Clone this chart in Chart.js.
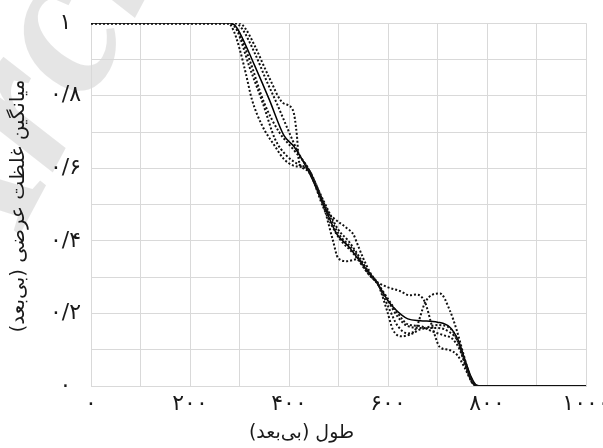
<!DOCTYPE html>
<html>
<head>
<meta charset="utf-8">
<script src="https://cdn.jsdelivr.net/npm/chart.js@4.4.0/dist/chart.umd.min.js"></script>
<style>
  html, body { margin: 0; padding: 0; background: #fff; }
  #wrap { width: 603px; height: 448px; }
</style>
</head>
<body>
<div id="wrap"><canvas id="myChart" width="603" height="448"></canvas></div>
<script>
// tick labels (Persian digits)
const xTickValues = [0, 200, 400, 600, 800, 1000];
const xTickLabels = ['۰', '۲۰۰', '۴۰۰', '۶۰۰', '۸۰۰', '۱۰۰۰'];
const yTickValues = [0, 0.2, 0.4, 0.6, 0.8, 1];
const yTickLabels = ['۰', '۰/۲', '۰/۴', '۰/۶', '۰/۸', '۱'];
const xTitle = 'طول (بی‌بعد)';
const yTitle = 'میانگین غلظت عرضی (بی‌بعد)';
const watermark = 'Archive';

// mean curve (solid)
const meanX = [0, 280, 290, 300, 330, 360, 390, 410, 440, 470, 496, 520, 540, 560, 580, 600, 612, 640, 665, 700, 725, 742, 756, 768, 778, 790, 1000];
const meanY = [1, 1, 0.995, 0.975, 0.885, 0.79, 0.69, 0.66, 0.59, 0.50, 0.42, 0.385, 0.35, 0.315, 0.28, 0.235, 0.215, 0.185, 0.18, 0.176, 0.162, 0.126, 0.07, 0.025, 0.003, 0, 0];

// individual runs (dotted)
const run1X = [0, 277, 288, 300, 313, 325, 345, 372, 390, 408, 428, 440, 460, 475, 490, 517, 530, 540, 550, 565, 580, 598, 610, 628, 645, 670, 700, 725, 740, 755, 768, 780, 1000];
const run1Y = [1, 1, 0.98, 0.93, 0.86, 0.79, 0.72, 0.66, 0.625, 0.608, 0.603, 0.596, 0.53, 0.485, 0.463, 0.435, 0.418, 0.385, 0.352, 0.31, 0.28, 0.208, 0.155, 0.137, 0.142, 0.158, 0.16, 0.148, 0.126, 0.07, 0.02, 0, 0];

const run2X = [0, 300, 312, 330, 360, 388, 408, 416, 420, 432, 440, 455, 469, 489, 499, 517, 540, 560, 580, 600, 620, 640, 655, 675, 690, 705, 725, 739, 752, 765, 778, 1000];
const run2Y = [1, 1, 0.985, 0.94, 0.85, 0.78, 0.76, 0.69, 0.62, 0.598, 0.59, 0.55, 0.5, 0.4, 0.353, 0.344, 0.35, 0.315, 0.28, 0.22, 0.165, 0.145, 0.155, 0.23, 0.252, 0.255, 0.208, 0.153, 0.09, 0.03, 0, 0];

const run3X = [0, 280, 295, 320, 347, 372, 395, 420, 440, 470, 500, 530, 560, 580, 600, 624, 644, 658, 675, 690, 705, 722, 740, 755, 770, 782, 1000];
const run3Y = [1, 1, 0.98, 0.88, 0.78, 0.68, 0.635, 0.61, 0.596, 0.505, 0.42, 0.375, 0.31, 0.285, 0.272, 0.262, 0.25, 0.252, 0.23, 0.16, 0.107, 0.10, 0.085, 0.05, 0.01, 0, 0];

const run4X = [0, 292, 305, 330, 355, 375, 400, 420, 440, 470, 500, 520, 540, 560, 580, 600, 620, 640, 670, 700, 725, 742, 756, 770, 785, 1000];
const run4Y = [1, 1, 0.985, 0.92, 0.84, 0.78, 0.70, 0.64, 0.596, 0.51, 0.43, 0.40, 0.36, 0.315, 0.28, 0.235, 0.19, 0.165, 0.16, 0.168, 0.16, 0.12, 0.06, 0.01, 0, 0];

const run5X = [0, 282, 295, 320, 350, 380, 410, 440, 470, 500, 530, 560, 580, 600, 620, 640, 665, 690, 712, 730, 745, 758, 772, 785, 1000];
const run5Y = [1, 1, 0.985, 0.90, 0.78, 0.70, 0.65, 0.596, 0.49, 0.41, 0.365, 0.31, 0.28, 0.24, 0.2, 0.17, 0.165, 0.15, 0.14, 0.13, 0.10, 0.05, 0.005, 0, 0];

const toPoints = (xs, ys) => xs.map((x, i) => ({ x: x, y: ys[i] }));

const FONT = '"DejaVu Sans", sans-serif';
const GRID = '#d9d9d9';

function dotted(xs, ys) {
  return {
    data: toPoints(xs, ys),
    borderColor: '#111',
    borderWidth: 2,
    borderDash: [2, 2],
    pointRadius: 0,
    fill: false,
    cubicInterpolationMode: 'monotone'
  };
}

// faint diagonal watermark behind the plot
const watermarkPlugin = {
  id: 'watermark',
  beforeDraw(chart) {
    const ctx = chart.ctx;
    ctx.save();
    ctx.translate(-15, 300);
    ctx.rotate(-62 * Math.PI / 180);
    ctx.font = 'italic bold 210px "Liberation Serif", serif';
    ctx.fillStyle = 'rgba(0, 0, 0, 0.1)';
    ctx.textBaseline = 'alphabetic';
    ctx.fillText(watermark, 0, 0);
    ctx.restore();
  }
};

// axis titles drawn by hand (x title sits at canvas centre, not plot centre)
const titlesPlugin = {
  id: 'axisTitles',
  afterDraw(chart) {
    const ctx = chart.ctx;
    ctx.save();
    ctx.fillStyle = '#1a1a1a';
    ctx.font = '19px ' + FONT;
    ctx.textAlign = 'center';
    ctx.textBaseline = 'middle';
    ctx.direction = 'rtl';
    ctx.fillText(xTitle, chart.width / 2, 433);
    ctx.font = '20px ' + FONT;
    ctx.translate(19, 206);
    ctx.rotate(-Math.PI / 2);
    ctx.fillText(yTitle, 0, 0);
    ctx.restore();
  }
};

new Chart(document.getElementById('myChart'), {
  type: 'line',
  data: {
    datasets: [
      dotted(run1X, run1Y),
      dotted(run2X, run2Y),
      dotted(run3X, run3Y),
      dotted(run4X, run4Y),
      dotted(run5X, run5Y),
      {
        data: toPoints(meanX, meanY),
        borderColor: '#000',
        borderWidth: 1.5,
        pointRadius: 0,
        fill: false,
        cubicInterpolationMode: 'monotone'
      }
    ]
  },
  options: {
    responsive: false,
    animation: false,
    devicePixelRatio: 1,
    layout: { padding: { left: 0, right: 17, top: 20, bottom: 0 } },
    plugins: {
      legend: { display: false },
      tooltip: { enabled: false }
    },
    scales: {
      x: {
        type: 'linear',
        min: 0,
        max: 1000,
        grid: { color: GRID, lineWidth: 1, drawTicks: false },
        border: { color: GRID },
        ticks: {
          stepSize: 100,
          padding: 5,
          maxRotation: 0,
          autoSkip: false,
          color: '#1a1a1a',
          font: { family: FONT, size: 22 },
          callback: (v) => {
            const i = xTickValues.indexOf(Math.round(v));
            return i >= 0 ? xTickLabels[i] : '';
          }
        },
        afterFit: (scale) => {
          scale.height = 62;
          scale.paddingLeft = 0;
          scale.paddingRight = 0;
        }
      },
      y: {
        min: 0,
        max: 1,
        grid: { color: GRID, lineWidth: 1, drawTicks: false },
        border: { color: GRID },
        ticks: {
          stepSize: 0.1,
          padding: 10,
          crossAlign: 'center',
          autoSkip: false,
          color: '#1a1a1a',
          font: { family: FONT, size: 22 },
          callback: (v) => {
            const i = yTickValues.findIndex(t => Math.abs(t - v) < 1e-6);
            return i >= 0 ? yTickLabels[i] : '';
          }
        },
        afterFit: (scale) => {
          scale.width = 91;
        }
      }
    }
  },
  plugins: [watermarkPlugin, titlesPlugin]
});
</script>
</body>
</html>
